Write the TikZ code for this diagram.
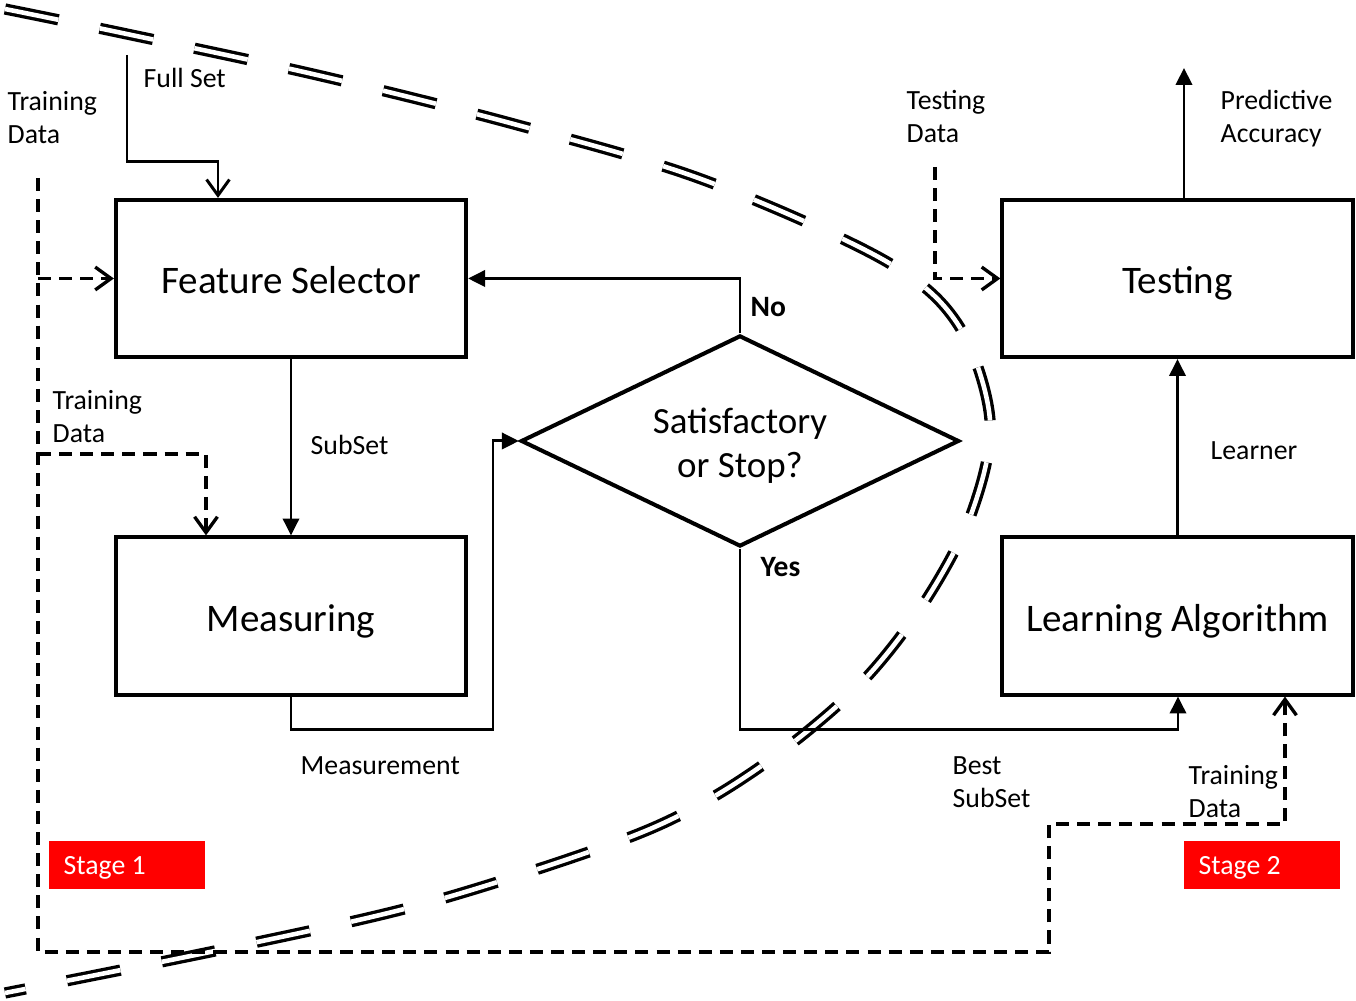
\documentclass[tikz,border=0pt]{standalone}
\usepackage{fontspec}
\setmainfont{Carlito}
\usetikzlibrary{arrows.meta,shapes.geometric}

\begin{document}
\begin{tikzpicture}[x=0.01cm,y=-0.01cm,
  procbox/.style={draw,line width=1.15pt,minimum width=3.5cm,minimum height=1.57cm,
    inner sep=0,text height=0.98em,text depth=0.1em,font=\fontsize{11.1}{13}\selectfont},
  lbl/.style={inner sep=0,anchor=base west,align=left,font=\fontsize{7.9}{9.4}\selectfont},
  boldlbl/.style={inner sep=0,anchor=base west,font=\bfseries\fontsize{8.4}{10}\selectfont},
  stagebox/.style={fill=red,minimum width=1.56cm,minimum height=0.48cm,inner sep=0},
  stagetxt/.style={inner sep=0,anchor=base west,text=white,font=\fontsize{7.9}{9.4}\selectfont},
  flow/.style={line width=0.85pt,-{Triangle[width=4.6pt,length=4.8pt]}},
  openflow/.style={line width=0.85pt,-{Straight Barb[width=6.5pt,length=4.5pt]}},
  dataflow/.style={line width=0.95pt,dash pattern=on 3.7pt off 2.3pt,
    -{Straight Barb[width=6.5pt,length=4.5pt]}},
  stageline/.style={line width=0.95pt,double distance=1.3pt,dash pattern=on 15.5pt off 12pt}
]
\useasboundingbox (0,0) rectangle (1356,1001);

% boundary between the two stages
\draw[stageline] plot[smooth,tension=0.55] coordinates {
  (5,9) (122,33) (317,75) (510,123) (701,179) (882,259) (957,323) (990,420)
  (972,512) (926,600) (865,679) (790,745) (708,800) (617,842) (427,903)
  (234,947) (5,993)};

% process boxes
\node[procbox] (fs) at (291,278.5) {Feature Selector};
\node[procbox] (ms) at (291,616) {Measuring};
\node[procbox] (ts) at (1177.5,278.5) {Testing};
\node[procbox] (la) at (1177.5,616) {Learning Algorithm};

% decision
\node[diamond,draw,line width=1.15pt,minimum width=4.38cm,minimum height=2.11cm,inner sep=0] (dec) at (740,441) {};
\node[inner sep=0,align=center,font=\fontsize{10.5}{12.5}\selectfont] (dectxt)
  at ([yshift=-0.05cm]dec.center) {Satisfactory\\or Stop?};

% stage tags
\node[stagebox] (s1) at (127,865) {};
\node[stagetxt] (s1t) at (63,875) {Stage 1};
\node[stagebox] (s2) at (1262,865) {};
\node[stagetxt] (s2t) at (1198,875) {Stage 2};

% free ends and bends
\coordinate (fullin) at (127,55);
\coordinate (fullbend) at (218,162);
\coordinate (mbend) at (493,730);
\coordinate (ybend) at (1178,730);
\coordinate (pa) at (1184,68);
\coordinate (tdin) at (935,167);
\coordinate (tr0) at (38,178);
\coordinate (tr2) at (1049,952);
\coordinate (tr4) at (1285,824);
\coordinate (tm) at (206,454);

% solid connectors
\draw[openflow] (fullin) |- (fullbend) -- (fullbend |- fs.north);
\draw[flow] (fs) -- (ms);
\draw[flow] (ms.south) |- (mbend) |- (dec.west);
\draw[flow] (dec.north) |- (fs.east);
\draw[flow] (dec.south) |- (ybend) -- (ybend |- la.south);
\draw[flow] (la) -- (ts);
\draw[flow] (pa |- ts.north) -- (pa);

% data connectors
\draw[dataflow] (tdin) |- (ts.west);
\draw[dataflow] (tr0) |- (tr2) |- (tr4) -- (tr4 |- la.south);
\draw[dataflow] (tr0 |- fs.west) -- (fs.west);
\draw[dataflow] (tr0 |- tm) -- (tm) -- (tm |- ms.north);

% labels (two-line labels are placed by the baseline of their last line)
\node[lbl] (lfull) at (143,88) {Full Set};
\node[lbl] (ltr1) at (7,144) {Training\\Data};
\node[lbl] (ltd) at (906,143) {Testing\\Data};
\node[lbl] (lpa) at (1220,143) {Predictive\\Accuracy};
\node[lbl] (ltr2) at (52,443) {Training\\Data};
\node[lbl] (lsub) at (310,455) {SubSet};
\node[lbl] (lmeas) at (300,775) {Measurement};
\node[lbl] (lbest) at (952,808) {Best\\SubSet};
\node[lbl] (ltr3) at (1188,818) {Training\\Data};
\node[lbl] (llearn) at (1210,460) {Learner};
\node[boldlbl] (lno) at (750,317) {No};
\node[boldlbl] (lyes) at (760,577) {Yes};
\end{tikzpicture}
\end{document}
